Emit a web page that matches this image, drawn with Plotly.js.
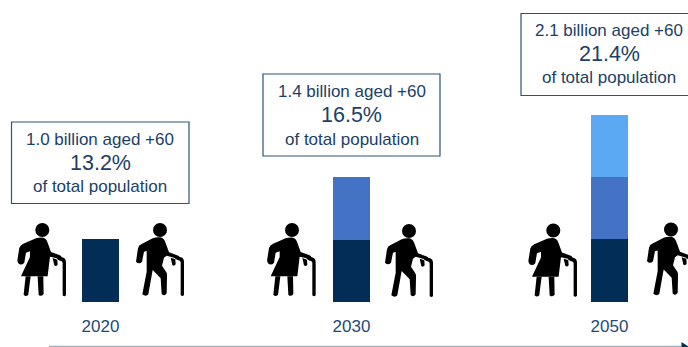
<!DOCTYPE html>
<html>
<head>
<meta charset="utf-8">
<script src="https://cdn.plot.ly/plotly-3.0.1.min.js"></script>
<style>html,body{margin:0;padding:0;background:#fff;overflow:hidden}#chart{width:688px;height:347px}</style>
</head>
<body>
<div id="chart"></div>
<script>
// Population aged 60+ shown as stacked blocks, one column per year
const years = ['2020', '2030', '2050'];
const blockFirst = [1, 0.99, 1];
const blockSecond = [null, 1, 1];
const blockThird = [null, null, 0.99];
const billionsLabels = ['1.0 billion aged +60', '1.4 billion aged +60', '2.1 billion aged +60'];
const shareLabels = ['13.2%', '16.5%', '21.4%'];
const captionLabel = 'of total population';

const NAVY = '#012d57', MID = '#4472c4', LIGHT = '#5aa9f2';
const TEXT = '#1b3f66', BORDER = '#2c5479';
const FONT = '"Liberation Sans", Arial, sans-serif';
const W = 688, H = 347, BASE_Y = 302, BLOCK_PX = 62.6, BAR_PX = 37;

// Column centres and callout geometry, in page pixels
const centres = [100.5, 351.5, 609.5];
const boxes = [
  {x0: 11.5, x1: 189, y0: 122, y1: 203.5, tx: 100, ty: [139, 163, 186]},
  {x0: 263, x1: 440, y0: 74, y1: 156, tx: 351.5, ty: [91.5, 115, 139]},
  {x0: 521, x1: 710, y0: 13.5, y1: 95.5, tx: 609, ty: [30, 54, 77]}
];
const womanHeads = [[42.3, 230], [292, 230], [553.3, 230.5]];
const manHeads = [[160, 230], [409, 231], [671, 229.5]];

// Pictogram outlines, drawn at three times their final size around the head centre
const WOMAN = {
  head: [97, 44], r: 21,
  parts: [
    'M 78,69 Q 90,65 100,67 Q 110,70 113,82 L 123,110 L 150,120 Q 158,124 155,132 L 120,124 L 113,183 L 33,183 L 60,125 L 60,108 L 48,112 L 43,142 Q 34,152 25,144 Q 21,138 23,130 L 28,98 Q 30,90 40,85 Z',
    'M 47,183 L 62,183 L 55,238 Q 48,246 41,238 Z',
    'M 83,183 L 100,183 L 101,236 Q 93,246 86,238 Z',
    'M 128,128 L 142,133 L 143,148 Q 138,155 133,150 Z',
    'M 140,130 Q 142,124 156,126 Q 168,128 168,140 L 168,240 Q 163,246 158,240 L 158,142 Q 156,135 150,136 Z'
  ]
};
const MAN = {
  head: [90, 45], r: 21,
  parts: [
    'M 68,70 Q 80,65 92,67 Q 102,70 106,82 L 117,112 L 145,122 Q 152,126 148,133 L 110,122 L 102,128 L 96,152 L 108,170 Q 112,175 111,185 L 110,235 Q 103,245 95,237 L 92,190 L 68,165 L 55,238 Q 48,246 37,238 L 50,170 L 50,108 L 42,110 L 36,140 Q 27,150 18,140 L 24,100 Q 26,90 35,87 Z',
    'M 122,128 L 136,133 L 137,148 Q 132,155 127,150 Z',
    'M 134,130 Q 136,124 150,126 Q 162,128 162,140 L 162,240 Q 157,246 152,240 L 152,142 Q 150,135 144,136 Z'
  ]
};

function placed(icon, cx, cy) {
  return icon.parts.map(p => p.replace(/(-?[\d.]+),(-?[\d.]+)/g, (m, a, b) =>
    ((+a - icon.head[0]) / 3 + cx).toFixed(2) + ',' + ((+b - icon.head[1]) / 3 + cy).toFixed(2)));
}
function iconShapes(icon, cx, cy) {
  const r = icon.r / 3;
  const out = [{type: 'circle', xref: 'x2', yref: 'y2', x0: cx - r, x1: cx + r, y0: cy - r, y1: cy + r,
    fillcolor: '#000', line: {width: 0}}];
  placed(icon, cx, cy).forEach(path => out.push({type: 'path', xref: 'x2', yref: 'y2', path, fillcolor: '#000', line: {width: 0}}));
  return out;
}

const shapes = [];
womanHeads.forEach(h => shapes.push(...iconShapes(WOMAN, h[0], h[1])));
manHeads.forEach(h => shapes.push(...iconShapes(MAN, h[0], h[1])));
boxes.forEach(b => shapes.push({type: 'rect', xref: 'x2', yref: 'y2', x0: b.x0, x1: b.x1, y0: b.y0, y1: b.y1,
  fillcolor: 'rgba(0,0,0,0)', line: {color: BORDER, width: 1.2}}));
// Timeline arrow along the bottom edge
shapes.push({type: 'line', xref: 'x2', yref: 'y2', x0: 49, x1: 684, y0: 346.3, y1: 346.3, line: {color: '#9fb1c3', width: 1.2}});
shapes.push({type: 'path', xref: 'x2', yref: 'y2', path: 'M 681.5,342 L 689,347 L 681.5,347 Z', fillcolor: NAVY, line: {width: 0}});

const annotations = [];
boxes.forEach((b, i) => {
  const lines = [[billionsLabels[i], 17], [shareLabels[i], 21.5], [captionLabel, 17]];
  lines.forEach((l, j) => annotations.push({
    xref: 'x2', yref: 'y2', x: b.tx, y: b.ty[j], text: l[0], showarrow: false,
    xanchor: 'center', yanchor: 'middle', font: {family: FONT, size: l[1], color: TEXT}
  }));
});

const bar = (values, color) => ({
  type: 'bar', x: centres, y: values, width: BAR_PX, marker: {color, line: {width: 0}}, hoverinfo: 'skip'
});

const data = [bar(blockFirst, NAVY), bar(blockSecond, MID), bar(blockThird, LIGHT),
  {type: 'scatter', x: [0], y: [0], xaxis: 'x2', yaxis: 'y2', mode: 'none', hoverinfo: 'skip'}];

const layout = {
  width: W, height: H, margin: {l: 0, r: 0, t: 0, b: 0},
  paper_bgcolor: '#fff', plot_bgcolor: 'rgba(0,0,0,0)', showlegend: false, barmode: 'stack',
  xaxis: {
    domain: [0, 1], range: [0, W], tickmode: 'array', tickvals: centres, ticktext: years,
    ticks: 'outside', ticklen: 9, tickcolor: 'rgba(0,0,0,0)', showgrid: false, zeroline: false, showline: false,
    tickfont: {family: FONT, size: 17, color: '#1f4a78'}, anchor: 'y', fixedrange: true
  },
  yaxis: {domain: [(H - BASE_Y) / H, 1], range: [0, BASE_Y / BLOCK_PX], visible: false, anchor: 'x', fixedrange: true},
  xaxis2: {domain: [0, 1], range: [0, W], visible: false, anchor: 'y2', fixedrange: true},
  yaxis2: {domain: [0, 1], range: [H, 0], visible: false, anchor: 'x2', fixedrange: true},
  shapes, annotations
};

Plotly.newPlot('chart', data, layout, {displayModeBar: false, staticPlot: true});
</script>
</body>
</html>
